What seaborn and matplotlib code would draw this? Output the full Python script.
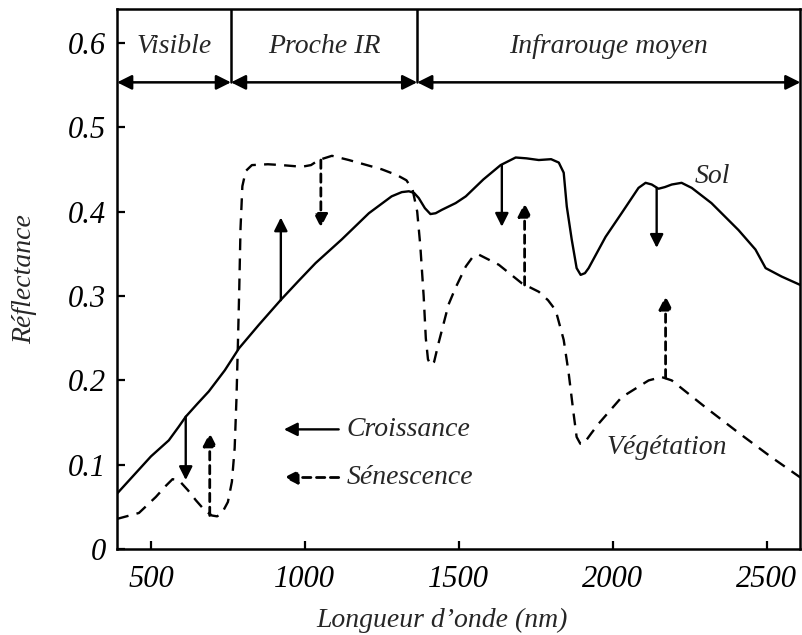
import matplotlib
matplotlib.use("Agg")
import matplotlib.pyplot as plt
import seaborn as sns
import pandas as pd

# ---- data ----
soil_x = [390, 450, 500, 558, 590, 613, 650, 688, 740, 786, 851, 921, 980, 1035, 1120,
          1208, 1282, 1315, 1338, 1355, 1370, 1390, 1408, 1425, 1445, 1490, 1523, 1580,
          1636, 1685, 1720, 1760, 1800, 1825, 1841, 1851, 1867, 1883, 1896, 1910, 1922,
          1977, 2029, 2084, 2107, 2127, 2149, 2170, 2192, 2224, 2257, 2321, 2409, 2464,
          2497, 2549, 2610]
soil_y = [0.066, 0.090, 0.110, 0.129, 0.145, 0.157, 0.172, 0.187, 0.212, 0.238, 0.266,
          0.295, 0.318, 0.339, 0.367, 0.398, 0.418, 0.423, 0.424, 0.422, 0.416, 0.404,
          0.397, 0.398, 0.402, 0.410, 0.418, 0.438, 0.455, 0.464, 0.463, 0.461, 0.462,
          0.458, 0.446, 0.406, 0.367, 0.333, 0.325, 0.327, 0.333, 0.370, 0.398, 0.428,
          0.434, 0.432, 0.427, 0.429, 0.432, 0.434, 0.428, 0.410, 0.378, 0.355, 0.333,
          0.323, 0.313]

veg_x = [390, 461, 516, 548, 570, 590, 620, 646, 675, 698, 715, 731, 750, 763, 772, 778,
         783, 787, 791, 797, 808, 828, 880, 925, 990, 1020, 1045, 1088, 1143, 1250, 1300,
         1330, 1350, 1365, 1375, 1386, 1393, 1400, 1409, 1420, 1435, 1467, 1490, 1523,
         1545, 1565, 1630, 1705, 1760, 1790, 1815, 1841, 1857, 1873, 1883, 1895, 1906,
         1930, 1955, 2029, 2117, 2159, 2192, 2302, 2409, 2516, 2610]
veg_y = [0.036, 0.043, 0.062, 0.075, 0.083, 0.082, 0.070, 0.058, 0.046, 0.040, 0.039,
         0.043, 0.056, 0.080, 0.120, 0.180, 0.250, 0.310, 0.380, 0.430, 0.448, 0.455,
         0.456, 0.455, 0.453, 0.455, 0.461, 0.466, 0.461, 0.450, 0.443, 0.437, 0.426,
         0.400, 0.360, 0.300, 0.250, 0.225, 0.218, 0.222, 0.245, 0.290, 0.310, 0.335,
         0.346, 0.349, 0.337, 0.315, 0.305, 0.295, 0.283, 0.248, 0.209, 0.161, 0.133,
         0.125, 0.125, 0.137, 0.149, 0.180, 0.200, 0.204, 0.200, 0.168, 0.138, 0.109,
         0.085]

# growth (solid) arrows: x, start y, end y
grow_x = [613, 922, 1640, 2143]
grow_y0 = [0.157, 0.295, 0.455, 0.428]
grow_y1 = [0.082, 0.393, 0.382, 0.357]

# senescence (dashed) arrows
sen_x = [691, 1052, 1714, 2172]
sen_y0 = [0.040, 0.461, 0.313, 0.203]
sen_y1 = [0.138, 0.381, 0.410, 0.300]

regions = ["Visible", "Proche IR", "Infrarouge moyen"]
region_bounds = [390, 760, 1365, 2610]

xticks = [500, 1000, 1500, 2000, 2500]
yticks = [0, 0.1, 0.2, 0.3, 0.4, 0.5, 0.6]
ytick_labels = ["0", "0.1", "0.2", "0.3", "0.4", "0.5", "0.6"]

sns.set_theme(style="ticks")
FAM = ["Liberation Serif", "DejaVu Serif"]
plt.rcParams["font.family"] = FAM
plt.rcParams["font.style"] = "italic"

fig = plt.figure(figsize=(8.02, 6.35), dpi=100)
ax = fig.add_axes([0.146, 0.135, 0.852, 0.851])

df_soil = pd.DataFrame({"x": soil_x, "y": soil_y})
df_veg = pd.DataFrame({"x": veg_x, "y": veg_y})
sns.lineplot(data=df_soil, x="x", y="y", ax=ax, color="black", lw=1.7, sort=False)
sns.lineplot(data=df_veg, x="x", y="y", ax=ax, color="black", lw=1.7, sort=False,
             linestyle=(0, (5, 3.5)))

ax.set_xlim(390, 2610)
ax.set_ylim(0, 0.64)
ax.set_xticks(xticks)
ax.set_xticklabels([str(t) for t in xticks])
ax.set_yticks(yticks)
ax.set_yticklabels(ytick_labels)
ax.tick_params(direction="in", length=6, width=1.6, labelsize=22, colors="black")
ax.tick_params(axis="x", pad=11)
ax.tick_params(axis="y", pad=8)
for lab in ax.get_xticklabels() + ax.get_yticklabels():
    lab.set_family(FAM)
    lab.set_style("italic")
for s in ax.spines.values():
    s.set_linewidth(1.8)
    s.set_color("black")

ax.set_xlabel("Longueur d\u2019onde (nm)", fontsize=20, family=FAM, style="italic")
ax.xaxis.set_label_coords(0.476, -0.131)
ax.xaxis.label.set_va("center")
ax.set_ylabel("Réflectance", fontsize=20, family=FAM, style="italic")
ax.yaxis.set_label_coords(-0.135, 0.5)
ax.yaxis.label.set_va("center")

# arrows
for x, y0, y1 in zip(grow_x, grow_y0, grow_y1):
    ax.annotate("", xy=(x, y1), xytext=(x, y0),
                arrowprops=dict(arrowstyle="-|>", color="black", lw=1.7,
                                mutation_scale=20, shrinkA=0, shrinkB=0))
for x, y0, y1 in zip(sen_x, sen_y0, sen_y1):
    ax.annotate("", xy=(x, y1), xytext=(x, y0),
                arrowprops=dict(arrowstyle="-|>", color="black", lw=2.0,
                                linestyle=(0, (3, 2)),
                                mutation_scale=20, shrinkA=0, shrinkB=0))

# header regions
arrow_y = 0.553
for i, name in enumerate(regions):
    a, b = region_bounds[i], region_bounds[i + 1]
    ax.annotate("", xy=(b, arrow_y), xytext=(a, arrow_y),
                arrowprops=dict(arrowstyle="<|-|>", color="black", lw=1.8,
                                mutation_scale=22, shrinkA=0, shrinkB=0))
    ax.text((a + b) / 2, 0.596, name, ha="center", va="center", fontsize=20,
            family=FAM, style="italic")
for b in region_bounds[1:-1]:
    ax.plot([b, b], [arrow_y, 0.64], color="black", lw=1.8)

# legend
ax.annotate("", xy=(932, 0.142), xytext=(1110, 0.142),
            arrowprops=dict(arrowstyle="-|>", color="black", lw=1.7,
                            mutation_scale=20, shrinkA=0, shrinkB=0))
ax.annotate("", xy=(932, 0.085), xytext=(1110, 0.085),
            arrowprops=dict(arrowstyle="-|>", color="black", lw=2.0,
                            linestyle=(0, (3, 2)),
                            mutation_scale=20, shrinkA=0, shrinkB=0))
ax.text(1136, 0.142, "Croissance", ha="left", va="center", fontsize=20,
        family=FAM, style="italic")
ax.text(1136, 0.085, "Sénescence", ha="left", va="center", fontsize=20,
        family=FAM, style="italic")

ax.text(2325, 0.441, "Sol", ha="center", va="center", fontsize=20, family=FAM, style="italic")
ax.text(2175, 0.12, "Végétation", ha="center", va="center", fontsize=20, family=FAM,
        style="italic")

fig.savefig("out.png", dpi=100, facecolor="white")
